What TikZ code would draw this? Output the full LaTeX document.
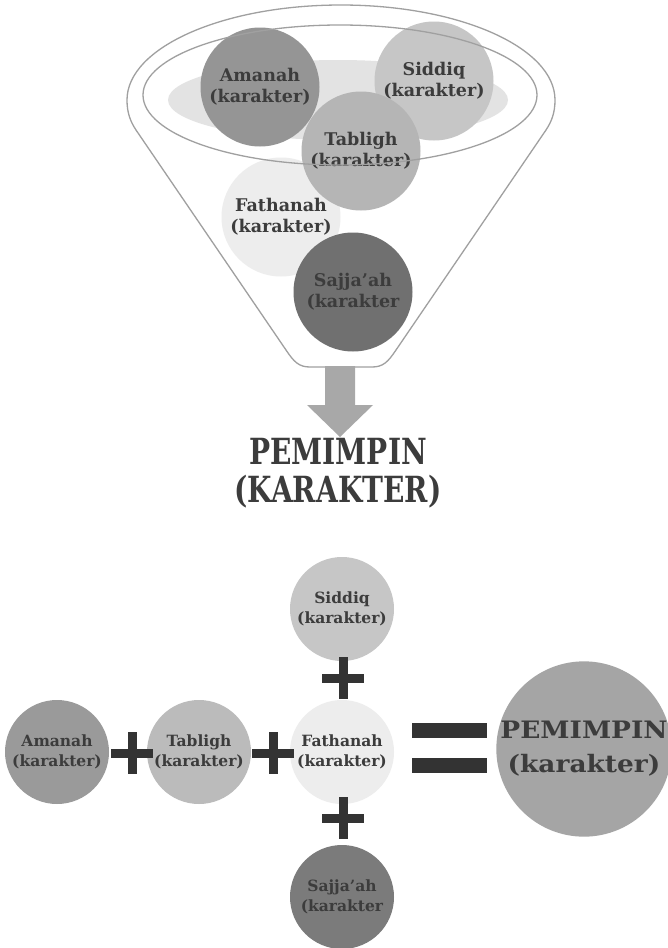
\documentclass[tikz,border=0pt]{standalone}
\usepackage{fontspec}
\setmainfont{DejaVu Serif}
\newfontfamily\capfont[FakeStretch=0.78]{DejaVu Serif}
\newfontfamily\widefont[FakeStretch=1.1]{DejaVu Serif}
\definecolor{txt}{HTML}{3C3C3C}
\definecolor{plusc}{HTML}{333333}
\definecolor{rim}{HTML}{A0A0A0}
\definecolor{shadec}{HTML}{E3E3E3}
\definecolor{cAm}{HTML}{959595}
\definecolor{cSi}{HTML}{C6C6C6}
\definecolor{cTa}{HTML}{B5B5B5}
\definecolor{cFa}{HTML}{EDEDED}
\definecolor{cSa}{HTML}{707070}
\definecolor{cPe}{HTML}{A5A5A5}
\definecolor{arr}{HTML}{A8A8A8}
\tikzset{
  ball/.style={circle, draw=none, inner sep=0pt, align=center, text=txt},
  topball/.style={ball, minimum size=119pt, font=\bfseries\fontsize{17.5}{21}\selectfont},
  botball/.style={ball, minimum size=104pt, font=\bfseries\fontsize{15.5}{20}\selectfont},
  rimline/.style={draw=rim, line width=1.3pt},
  plussign/.pic={
    \fill[plusc] (-21,-4.5) rectangle (21,4.5);
    \fill[plusc] (-4.5,-21) rectangle (4.5,21);
  }
}
\begin{document}
\begin{tikzpicture}[x=1pt,y=-1pt]
\fill[white] (0,0) rectangle (668,948);
\useasboundingbox (0,0) rectangle (668,948);

% ---------- funnel ----------
\fill[shadec] (338,100) ellipse [x radius=170, y radius=40];
\node[topball, fill=cFa] (fa1) at (281,217) {Fathanah\\(karakter)};
\node[topball, fill=cAm] (am1) at (260,87) {Amanah\\(karakter)};
\node[topball, fill=cSi] (si1) at (434,81) {Siddiq\\(karakter)};
\node[topball, fill=cTa] (ta1) at (361,151) {Tabligh\\(karakter)};
\node[topball, fill=cSa] (sa1) at (353,292) {Sajja’ah\\(karakter};
\draw[rimline] (340,95) ellipse [x radius=197, y radius=70];
\draw[rimline] (127,100) .. controls (127,47.5) and (222.8,5) .. (341,5)
  .. controls (459.2,5) and (555,47.5) .. (555,100)
  .. controls (555,112) and (552,121) .. (546,130)
  -- (396,350) .. controls (388,362) and (383,367) .. (372,367)
  -- (310,367) .. controls (299,367) and (294,362) .. (286,350)
  -- (136,130) .. controls (130,121) and (127,112) .. (127,100) -- cycle;

% arrow
\fill[arr] (325,366) -- (355,366) -- (355,405) -- (373,405) -- (340,437)
  -- (307,405) -- (325,405) -- cycle;
\node[inner sep=0pt, align=center, text=txt,
  font=\capfont\bfseries\fontsize{36}{38}\selectfont] (lead) at (338,473)
  {PEMIMPIN\\(KARAKTER)};

% ---------- equation ----------
\node[botball, fill=cSi] (si2) at (342,609) {Siddiq\\(karakter)};
\node[botball, fill=cAm!95!white] (am2) at (57,752) {Amanah\\(karakter)};
\node[botball, fill=cTa!92!white] (ta2) at (199,752) {Tabligh\\(karakter)};
\node[botball, fill=cFa] (fa2) at (342,752) {Fathanah\\(karakter)};
\node[botball, fill=cSa!92!white] (sa2) at (342,897) {Sajja’ah\\(karakter};
\node[ball, fill=cPe, minimum size=168pt,
  font=\widefont\bfseries\fontsize{24}{34}\selectfont] (pe) at (584,749)
  {PEMIMPIN\\(karakter)};

\pic at (132,753) {plussign};
\pic at (273,753) {plussign};
\pic at (343,678) {plussign};
\pic at (343,818) {plussign};

\fill[plusc] (412,723) rectangle (487,738);
\fill[plusc] (412,758) rectangle (487,773);
\end{tikzpicture}
\end{document}
